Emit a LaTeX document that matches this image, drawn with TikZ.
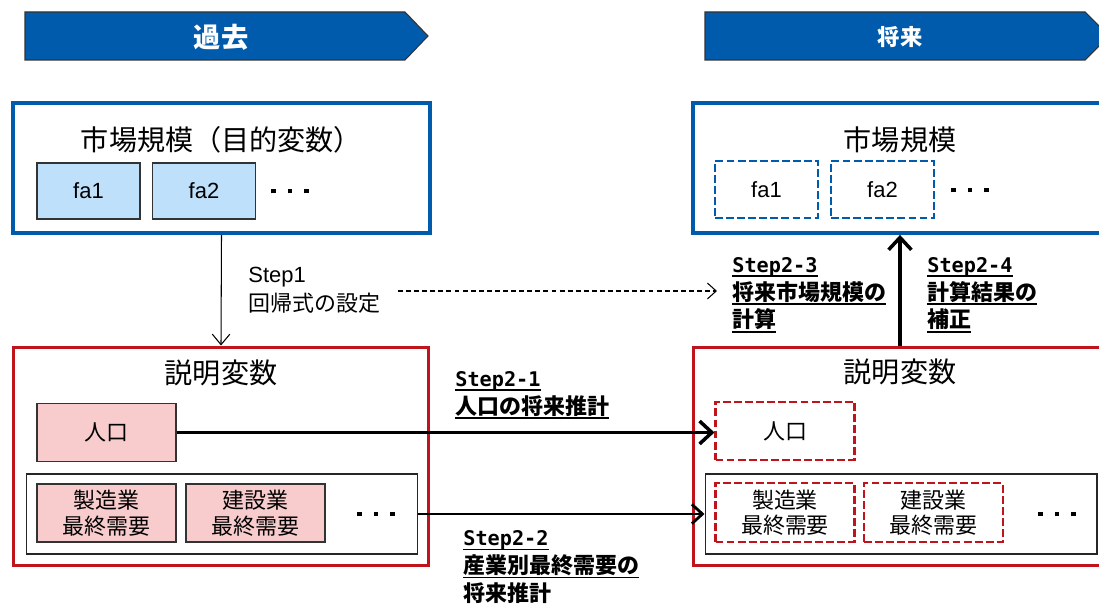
\documentclass[tikz,border=0pt]{standalone}
\usepackage{fontspec}
\setmainfont{Liberation Sans}
\newfontfamily\jp{Noto Sans CJK JP}
\newfontfamily\stepmono{DejaVu Sans Mono}
\usepackage{tikz}
\usetikzlibrary{arrows.meta}
\definecolor{barblue}{RGB}{0,91,172}
\definecolor{boxred}{RGB}{192,20,28}
\definecolor{faFill}{RGB}{190,224,250}
\definecolor{popFill}{RGB}{248,203,205}
\newcommand{\sq}{\rule{2.8pt}{2.8pt}}
\newcommand{\threedots}{\sq\hspace{6.8pt}\sq\hspace{6.8pt}\sq}
\newcommand{\uline}[1]{\setbox0=\hbox{#1}\rlap{\rule[-2.8pt]{\wd0}{1pt}}\box0}
\newcommand{\stepno}[1]{\uline{\stepmono\bfseries\fontsize{11.5}{15.9}\selectfont #1}}
\tikzset{
	bluebox/.style={draw=barblue, line width=2.2pt, minimum width=8.34cm, minimum height=2.6cm, inner sep=0pt},
	redbox/.style={draw=boxred, line width=1.7pt, minimum width=8.32cm, minimum height=4.38cm, inner sep=0pt},
	groupbox/.style={draw=black!85, line width=0.6pt, minimum width=7.84cm, minimum height=1.6cm, inner sep=0pt},
	fabox/.style={draw=black!80, line width=0.6pt, fill=faFill, minimum width=2.06cm, minimum height=1.12cm, inner sep=0pt, font=\fontsize{12.5}{15}\selectfont},
	fadash/.style={draw=barblue, line width=1.2pt, dash pattern=on 4.5pt off 1.8pt, minimum width=2.06cm, minimum height=1.14cm, inner sep=0pt, font=\fontsize{12.5}{15}\selectfont},
	itembox/.style={draw=black!80, line width=0.6pt, fill=popFill, minimum width=2.78cm, minimum height=1.16cm, inner sep=0pt, align=center, font=\jp\fontsize{12.5}{14.5}\selectfont},
	itemdash/.style={draw=boxred, line width=1.2pt, dash pattern=on 4.5pt off 1.8pt, minimum width=2.78cm, minimum height=1.17cm, inner sep=0pt, align=center, font=\jp\fontsize{12.5}{14.5}\selectfont},
	boxtitle/.style={font=\jp\fontsize{16}{19}\selectfont, inner sep=0pt},
	bartitle/.style={text=white, font=\jp\bfseries\fontsize{#1}{18}\selectfont, inner sep=0pt},
	steplbl/.style={font=\jp\bfseries\fontsize{12.5}{15.9}\selectfont, align=left, inner sep=0pt, anchor=west},
	thinarrow/.style={line width=0.6pt, -{Straight Barb[length=6pt, width=10pt]}},
	dasharrow/.style={line width=0.6pt, dash pattern=on 2.8pt off 1.8pt, -{Straight Barb[length=5pt, width=9pt]}},
	thickarrow/.style={line width=2pt, -{Straight Barb[length=7pt, width=13pt, line width=2pt]}},
	midarrow/.style={line width=1.6pt, -{Straight Barb[length=6pt, width=11pt, line width=1.6pt]}}
}

\begin{document}
\begin{tikzpicture}[x=0.02cm, y=-0.02cm]
	%%%%% FRAME %%%%%
	\useasboundingbox (0,0) rectangle (1099,604);

	%%%%% BANNERS %%%%%
	\draw[fill=barblue, draw=black!80, line width=0.6pt] (25,12) -- (405,12) -- (428,36) -- (405,60) -- (25,60) -- cycle;
	\node[bartitle=15.5] (pastLbl) at (221,37) {過去};
	\draw[fill=barblue, draw=black!80, line width=0.6pt] (705,12) -- (1085,12) -- (1109,36) -- (1085,60) -- (705,60) -- cycle;
	\node[bartitle=12.7] (futLbl) at (900,37) {将来};

	%%%%% MARKET SIZE %%%%%
	\node[bluebox] (marketL) at (221.5,168) {};
	\node[boxtitle] (marketLTitle) at (221.5,140) {市場規模（目的変数）};
	\node[fabox] (faL1) at (88.5,191) {fa1};
	\node[fabox] (faL2) at (204,191) {fa2};
	\node[inner sep=0pt] (dotsL1) at (290,191) {\threedots};

	\node[bluebox] (marketR) at (901.5,168) {};
	\node[boxtitle] (marketRTitle) at (900,140) {市場規模};
	\node[fadash] (faR1) at (766.5,189.5) {fa1};
	\node[fadash] (faR2) at (882.5,189.5) {fa2};
	\node[inner sep=0pt] (dotsR1) at (970,190) {\threedots};

	%%%%% EXPLANATORY VARIABLES %%%%%
	\node[redbox] (explL) at (221,456.5) {};
	\node[boxtitle] (explLTitle) at (221,373) {説明変数};
	\node[itembox] (popL) at (106.5,432.5) {人口};
	\node[groupbox] (groupL) at (222,514) {};
	\node[itembox] (mfgL) at (106.5,513) {製造業\\最終需要};
	\node[itembox] (conL) at (255.5,513) {建設業\\最終需要};
	\node[inner sep=0pt] (dotsL2) at (376,514) {\threedots};

	\node[redbox] (explR) at (901.5,456.5) {};
	\node[boxtitle] (explRTitle) at (900,372) {説明変数};
	\node[itemdash] (popR) at (785,431) {人口};
	\node[groupbox] (groupR) at (901,514) {};
	\node[itemdash] (mfgR) at (785,512.5) {製造業\\最終需要};
	\node[itemdash] (conR) at (933.5,512.5) {建設業\\最終需要};
	\node[inner sep=0pt] (dotsR2) at (1057,514) {\threedots};

	%%%%% STEPS %%%%%
	\node[inner sep=0pt, anchor=west, align=left, font=\fontsize{12.5}{16.5}\selectfont] (step1) at (248,290) {Step1\\{\jp 回帰式の設定}};
	\coordinate (dashS) at (398,291);
	\coordinate (dashE) at (717,291);
	\node[steplbl] (step21) at (455,395) {\stepno{Step2-1}\\\uline{人口の将来推計}};
	\node[steplbl] (step22) at (463,567) {\stepno{Step2-2}\\\uline{産業別最終需要の}\\将来推計};
	\node[steplbl] (step23) at (732,295) {\stepno{Step2-3}\\\uline{将来市場規模の}\\\uline{計算}};
	\node[steplbl] (step24) at (927,295) {\stepno{Step2-4}\\\uline{計算結果の}\\\uline{補正}};

	%%%%% ARROWS %%%%%
	\draw[thinarrow] (marketL.south) -- (explL.north);
	\draw[dasharrow] (dashS) -- (dashE);
	\draw[thickarrow] (explR.north -| 900,0) -- (marketR.south -| 900,0);
	\draw[thickarrow] (popL.east) -- (popL.east -| popR.west);
	\draw[midarrow] (groupL.east) -- (groupR.west);
\end{tikzpicture}
\end{document}
